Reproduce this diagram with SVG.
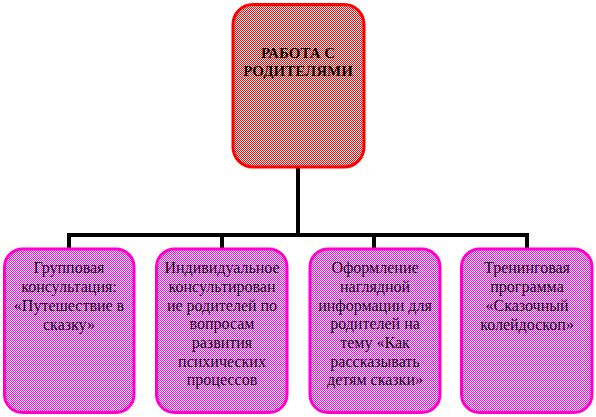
<svg xmlns="http://www.w3.org/2000/svg" width="596" height="417" viewBox="0 0 596 417">
<style>
.top{fill:url(#chkRed);stroke:#ff0000;stroke-width:3}
.sub{fill:url(#chkMag);stroke:#ff00cc;stroke-width:3}
.t{font-family:"Liberation Serif","Times New Roman",serif;font-size:16px;fill:#000;text-anchor:middle}
.tb{font-family:"Liberation Serif","Times New Roman",serif;font-size:15px;font-weight:bold;fill:#000;text-anchor:middle}
.c{stroke:#000;stroke-width:4;fill:none}
</style>
<defs>
<pattern id="chkRed" patternUnits="userSpaceOnUse" width="2" height="2">
<rect width="2" height="2" fill="#ffffff"/>
<rect width="1" height="1" fill="#ff0000"/>
<rect x="1" y="1" width="1" height="1" fill="#ff0000"/>
</pattern>
<pattern id="chkMag" patternUnits="userSpaceOnUse" width="2" height="2">
<rect width="2" height="2" fill="#ffffff"/>
<rect width="1" height="1" fill="#ff00ff"/>
<rect x="1" y="1" width="1" height="1" fill="#ff00ff"/>
</pattern>
</defs>
<rect width="596" height="417" fill="#ffffff"/>
<g id="connectors">
<line class="c" x1="298" y1="167" x2="298" y2="235"/>
<line class="c" x1="67" y1="235" x2="529" y2="235"/>
<line class="c" x1="69" y1="235" x2="69" y2="249"/>
<line class="c" x1="222" y1="235" x2="222" y2="249"/>
<line class="c" x1="374" y1="235" x2="374" y2="249"/>
<line class="c" x1="527" y1="235" x2="527" y2="249"/>
</g>
<g id="root">
<rect class="top" x="233" y="4.5" width="131" height="162.5" rx="20" ry="20"/>
<text class="tb" x="298" y="58">РАБОТА С</text>
<text class="tb" x="298" y="76">РОДИТЕЛЯМИ</text>
</g>
<g id="node1">
<rect class="sub" x="4.5" y="249" width="129.5" height="163.5" rx="18" ry="18"/>
<text class="t" x="69" y="273">Групповая</text>
<text class="t" x="69" y="292">консультация:</text>
<text class="t" x="69" y="311">«Путешествие в</text>
<text class="t" x="69" y="330">сказку»</text>
</g>
<g id="node2">
<rect class="sub" x="156.5" y="249" width="130.5" height="163.5" rx="18" ry="18"/>
<text class="t" x="222" y="273">Индивидуальное</text>
<text class="t" x="222" y="292">консультирован</text>
<text class="t" x="222" y="311">ие родителей по</text>
<text class="t" x="222" y="329">вопросам</text>
<text class="t" x="222" y="348">развития</text>
<text class="t" x="222" y="367">психических</text>
<text class="t" x="222" y="385">процессов</text>
</g>
<g id="node3">
<rect class="sub" x="310" y="249" width="130" height="163.5" rx="18" ry="18"/>
<text class="t" x="375" y="273">Оформление</text>
<text class="t" x="375" y="292">наглядной</text>
<text class="t" x="375" y="311">информации для</text>
<text class="t" x="375" y="329">родителей на</text>
<text class="t" x="375" y="348">тему «Как</text>
<text class="t" x="375" y="367">рассказывать</text>
<text class="t" x="375" y="385">детям сказки»</text>
</g>
<g id="node4">
<rect class="sub" x="461.5" y="249" width="130.5" height="163.5" rx="18" ry="18"/>
<text class="t" x="527" y="273">Тренинговая</text>
<text class="t" x="527" y="292">программа</text>
<text class="t" x="527" y="311">«Сказочный</text>
<text class="t" x="527" y="330">колейдоскоп»</text>
</g>
</svg>
